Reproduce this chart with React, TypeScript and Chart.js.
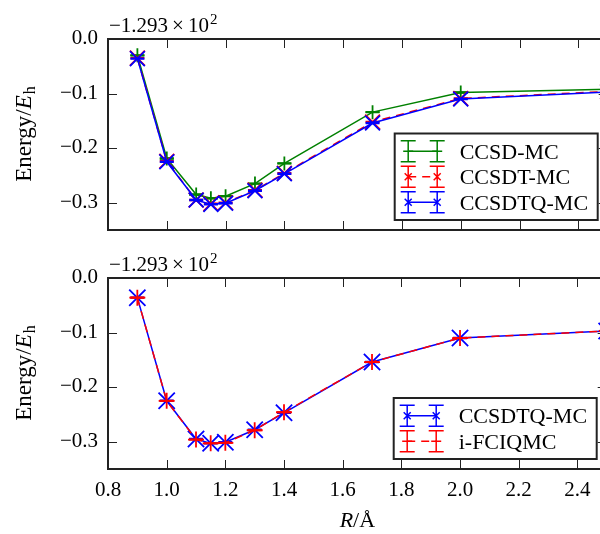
import { useEffect, useRef } from "react";
import { Chart, registerables } from "chart.js";
Chart.register(...registerables);

// ---- data ----
const R = [0.9, 1.0, 1.1, 1.15, 1.2, 1.3, 1.4, 1.7, 2.0, 2.5];
const CCSD_MC = [-0.03, -0.219, -0.285, -0.292, -0.288, -0.265, -0.228, -0.134, -0.098, -0.092];
const CCSDT_MC = [-0.035, -0.224, -0.295, -0.302, -0.3, -0.277, -0.246, -0.152, -0.109, -0.096];
const CCSDTQ_MC = [-0.036, -0.225, -0.295, -0.303, -0.301, -0.278, -0.247, -0.154, -0.11, -0.097];
const I_FCIQMC = [-0.036, -0.225, -0.296, -0.303, -0.302, -0.279, -0.246, -0.154, -0.11, -0.097];
const ERR_MC = [0.0008, 0.0008, 0.0008, 0.0008, 0.0008, 0.0008, 0.0008, 0.0008, 0.0008, 0.0008];
const ERR_FCIQMC = [0.0005, 0.0005, 0.0005, 0.0005, 0.0005, 0.0005, 0.0005, 0.0005, 0.0005, 0.0005];

const X_TICKS = [0.8, 1.0, 1.2, 1.4, 1.6, 1.8, 2.0, 2.2, 2.4];
const X_TICK_LABELS = ["0.8", "1.0", "1.2", "1.4", "1.6", "1.8", "2.0", "2.2", "2.4"];
const Y_TICKS = [0, -0.1, -0.2, -0.3];
const Y_TICK_LABELS = ["0.0", "\u22120.1", "\u22120.2", "\u22120.3"];
const OFFSET_MANTISSA = "\u22121.293";
const OFFSET_BASE = "10";
const OFFSET_EXP = "2";
const X_MIN = 0.8, X_MAX = 2.5, Y_MIN = -0.35, Y_MAX = 0;

const GREEN = "#008000", RED = "#ff0000", BLUE = "#0000ff", INK = "#222222";
const SERIF = '"Liberation Serif", "DejaVu Serif", serif';

type LegendItem = { label: string; color: string; dash?: number[]; marker: "x" | "+" };

function pts(ys: number[]) {
  return R.map((x, i) => ({ x, y: ys[i] }));
}

function makeDecor(showX: boolean, legend: LegendItem[]) {
  return {
    id: "decor",
    afterDatasetDraw(chart: any, args: any) {
      const ds: any = chart.data.datasets[args.index];
      if (!ds.errors) return;
      const ctx = chart.ctx;
      const ys = chart.scales.y;
      ctx.save();
      ctx.strokeStyle = ds.borderColor;
      ctx.lineWidth = 1.5;
      ctx.setLineDash([]);
      args.meta.data.forEach((el: any, i: number) => {
        const v = ds.data[i].y;
        const e = ds.errors[i];
        const y1 = ys.getPixelForValue(v + e);
        const y2 = ys.getPixelForValue(v - e);
        ctx.beginPath();
        ctx.moveTo(el.x, y1); ctx.lineTo(el.x, y2);
        ctx.moveTo(el.x - 7, y1); ctx.lineTo(el.x + 7, y1);
        ctx.moveTo(el.x - 7, y2); ctx.lineTo(el.x + 7, y2);
        ctx.stroke();
      });
      ctx.restore();
    },
    afterDraw(chart: any) {
      const ctx = chart.ctx;
      const a = chart.chartArea;
      const xs = chart.scales.x, ys = chart.scales.y;
      ctx.save();
      // ticks (inward, all sides)
      ctx.strokeStyle = INK;
      ctx.lineWidth = 1;
      ctx.beginPath();
      X_TICKS.forEach((t) => {
        const x = Math.round(xs.getPixelForValue(t)) + 0.5;
        ctx.moveTo(x, a.top); ctx.lineTo(x, a.top + 9);
        ctx.moveTo(x, a.bottom); ctx.lineTo(x, a.bottom - 9);
      });
      Y_TICKS.forEach((t) => {
        const y = Math.round(ys.getPixelForValue(t)) + 0.5;
        ctx.moveTo(a.left, y); ctx.lineTo(a.left + 9, y);
        ctx.moveTo(a.right, y); ctx.lineTo(a.right - 9, y);
      });
      ctx.stroke();
      // spines
      ctx.lineWidth = 2;
      ctx.strokeRect(a.left, a.top, a.right - a.left, a.bottom - a.top);
      // y tick labels
      ctx.fillStyle = "#000";
      ctx.font = `21px ${SERIF}`;
      ctx.textAlign = "right";
      ctx.textBaseline = "alphabetic";
      Y_TICKS.forEach((t, i) => {
        const y = ys.getPixelForValue(t);
        ctx.fillText(Y_TICK_LABELS[i], a.left - 10, y + 5);
      });
      // x tick labels
      if (showX) {
        ctx.textAlign = "center";
        X_TICKS.forEach((t, i) => {
          ctx.fillText(X_TICK_LABELS[i], xs.getPixelForValue(t), a.bottom + 27);
        });
        // x title R/Å
        ctx.font = `italic 22px ${SERIF}`;
        const w1 = ctx.measureText("R").width;
        ctx.font = `22px ${SERIF}`;
        const w2 = ctx.measureText("/\u00c5").width;
        const cx = (a.left + a.right) / 2;
        const sx = cx - (w1 + w2) / 2;
        ctx.textAlign = "left";
        ctx.font = `italic 22px ${SERIF}`;
        ctx.fillText("R", sx, a.bottom + 58);
        ctx.font = `22px ${SERIF}`;
        ctx.fillText("/\u00c5", sx + w1, a.bottom + 58);
      }
      // offset text
      ctx.textAlign = "left";
      let ox = a.left + 1;
      const oy = a.top - 7;
      ctx.font = `21px ${SERIF}`;
      ctx.fillText(OFFSET_MANTISSA, ox, oy);
      ox += ctx.measureText(OFFSET_MANTISSA).width + 4;
      ctx.fillText("\u00d7", ox, oy);
      ox += ctx.measureText("\u00d7").width + 4;
      ctx.fillText(OFFSET_BASE, ox, oy);
      ox += ctx.measureText(OFFSET_BASE).width + 1;
      ctx.font = `15px ${SERIF}`;
      ctx.fillText(OFFSET_EXP, ox, oy - 8);
      // y title
      ctx.save();
      ctx.translate(31, (a.top + a.bottom) / 2);
      ctx.rotate(-Math.PI / 2);
      ctx.font = `23px ${SERIF}`;
      const t1 = "Energy/";
      const tw1 = ctx.measureText(t1).width;
      ctx.font = `italic 23px ${SERIF}`;
      const tw2 = ctx.measureText("E").width;
      ctx.font = `16px ${SERIF}`;
      const tw3 = ctx.measureText("h").width;
      let tx = -(tw1 + tw2 + tw3) / 2;
      ctx.font = `23px ${SERIF}`;
      ctx.fillText(t1, tx, 0);
      tx += tw1;
      ctx.font = `italic 23px ${SERIF}`;
      ctx.fillText("E", tx, 0);
      tx += tw2 + 1;
      ctx.font = `16px ${SERIF}`;
      ctx.fillText("h", tx, 4);
      ctx.restore();
      // legend
      const rowH = 25.5, pad = 5;
      const bw = 203;
      const bh = legend.length * rowH + pad * 2;
      const bx = a.right - 10 - bw;
      const by = a.bottom - 10 - bh;
      ctx.fillStyle = "#fff";
      ctx.fillRect(bx, by, bw, bh);
      ctx.strokeStyle = INK;
      ctx.lineWidth = 2;
      ctx.strokeRect(bx, by, bw, bh);
      legend.forEach((it, i) => {
        const cy = by + pad + rowH / 2 + i * rowH;
        const h1 = bx + 13.5, h2 = bx + 42.5;
        ctx.strokeStyle = it.color;
        ctx.lineWidth = 1.5;
        ctx.setLineDash(it.dash || []);
        ctx.beginPath();
        ctx.moveTo(h1, cy); ctx.lineTo(h2, cy);
        ctx.stroke();
        ctx.setLineDash([]);
        [h1, h2].forEach((hx) => {
          ctx.beginPath();
          ctx.moveTo(hx, cy - 10.5); ctx.lineTo(hx, cy + 10.5);
          ctx.moveTo(hx - 7.5, cy - 10.5); ctx.lineTo(hx + 7.5, cy - 10.5);
          ctx.moveTo(hx - 7.5, cy + 10.5); ctx.lineTo(hx + 7.5, cy + 10.5);
          if (it.marker === "x") {
            ctx.moveTo(hx - 3.5, cy - 3.5); ctx.lineTo(hx + 3.5, cy + 3.5);
            ctx.moveTo(hx - 3.5, cy + 3.5); ctx.lineTo(hx + 3.5, cy - 3.5);
          } else {
            ctx.moveTo(hx - 5, cy); ctx.lineTo(hx + 5, cy);
          }
          ctx.stroke();
        });
        ctx.fillStyle = "#000";
        ctx.font = `22px ${SERIF}`;
        ctx.textAlign = "left";
        ctx.fillText(it.label, bx + 65, cy + 7.5);
      });
      ctx.restore();
    },
  };
}

function baseOptions(padding: any) {
  return {
    animation: false as const,
    responsive: false,
    events: [],
    layout: { padding },
    scales: {
      x: { type: "linear" as const, min: X_MIN, max: X_MAX, display: false },
      y: { type: "linear" as const, min: Y_MIN, max: Y_MAX, display: false },
    },
    plugins: { legend: { display: false }, tooltip: { enabled: false } },
  };
}

function series(label: string, ys: number[], errs: number[], color: string, style: string, radius: number, order: number, dash?: number[]) {
  return {
    label,
    data: pts(ys),
    errors: errs,
    borderColor: color,
    backgroundColor: color,
    borderWidth: 1.5,
    borderDash: dash || [],
    pointStyle: style,
    pointRadius: radius,
    pointBorderWidth: 1.8,
    pointBorderColor: color,
    pointBackgroundColor: color,
    tension: 0,
    fill: false,
    order,
    clip: false,
  };
}

export default function App() {
  const topRef = useRef<HTMLCanvasElement>(null);
  const botRef = useRef<HTMLCanvasElement>(null);
  useEffect(() => {
    const top = new Chart(topRef.current!, {
      type: "line",
      data: {
        datasets: [
          series("CCSD-MC", CCSD_MC, ERR_MC, GREEN, "cross", 7, 2),
          series("CCSDT-MC", CCSDT_MC, ERR_MC, RED, "crossRot", 10.5, 1, [8, 6]),
          series("CCSDTQ-MC", CCSDTQ_MC, ERR_MC, BLUE, "crossRot", 10.5, 0),
        ] as any,
      },
      options: baseOptions({ left: 108, right: 620 - 608, top: 39, bottom: 250 - 230 }) as any,
      plugins: [
        makeDecor(false, [
          { label: "CCSD-MC", color: GREEN, marker: "+" },
          { label: "CCSDT-MC", color: RED, marker: "x", dash: [8, 6] },
          { label: "CCSDTQ-MC", color: BLUE, marker: "x" },
        ]),
      ],
    });
    const bot = new Chart(botRef.current!, {
      type: "line",
      data: {
        datasets: [
          series("CCSDTQ-MC", CCSDTQ_MC, ERR_MC, BLUE, "crossRot", 11.5, 1),
          series("i-FCIQMC", I_FCIQMC, ERR_FCIQMC, RED, "cross", 8, 0, [8, 6]),
        ] as any,
      },
      options: baseOptions({ left: 108, right: 620 - 608, top: 28, bottom: 284 - 219 }) as any,
      plugins: [
        makeDecor(true, [
          { label: "CCSDTQ-MC", color: BLUE, marker: "x" },
          { label: "i-FCIQMC", color: RED, marker: "+", dash: [8, 6] },
        ]),
      ],
    });
    return () => {
      top.destroy();
      bot.destroy();
    };
  }, []);
  return (
    <div style={{ position: "fixed", left: 0, top: 0, width: 600, height: 534, overflow: "hidden", background: "#fff" }}>
      <canvas ref={topRef} width={620} height={250} style={{ position: "absolute", left: 0, top: 0, width: 620, height: 250 }} />
      <canvas ref={botRef} width={620} height={284} style={{ position: "absolute", left: 0, top: 250, width: 620, height: 284 }} />
    </div>
  );
}
